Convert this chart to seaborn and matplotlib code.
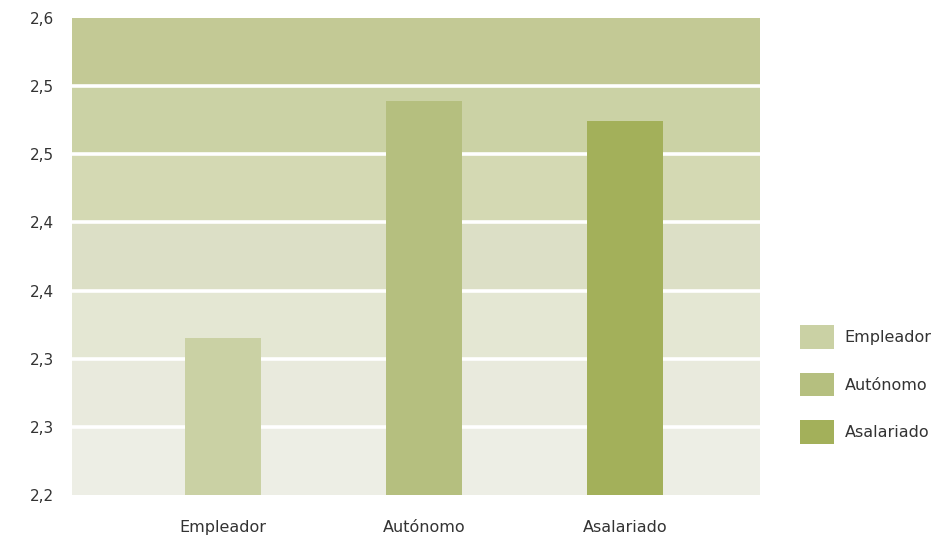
import matplotlib
matplotlib.use("Agg")
import matplotlib.pyplot as plt
import seaborn as sns
import pandas as pd
import numpy as np
from matplotlib.ticker import FuncFormatter
from matplotlib.patches import Patch

categories = ["Empleador", "Autónomo", "Asalariado"]
values = [2.332, 2.530, 2.514]
bar_colors = ["#CAD1A4", "#B5BF7F", "#A3B05A"]
band_colors = ["#EDEEE5", "#E9EADD", "#E4E7D3", "#DCDFC6", "#D4D9B3", "#CBD2A5", "#C3C995"]
y_min, y_max = 2.2, 2.6

sns.set_theme(style="white")
plt.rcParams['font.family'] = ['DejaVu Sans']
text_color = "#333333"

df = pd.DataFrame({"cat": categories, "val": values})

fig = plt.figure(figsize=(9.53, 5.40), dpi=100)
ax = fig.add_axes([72/953, 1-495/540, (760-72)/953, (495-18)/540])

ticks = np.linspace(y_min, y_max, 8)
for i, c in enumerate(band_colors):
    ax.axhspan(ticks[i], ticks[i+1], color=c, zorder=0, lw=0)
for t in ticks[1:-1]:
    ax.axhline(t, color="white", lw=2.6, zorder=0.5)

sns.barplot(data=df, x="cat", y="val", hue="cat", palette=bar_colors,
            hue_order=categories, order=categories, width=0.378,
            legend=False, ax=ax, zorder=2, saturation=1, linewidth=0)

ax.set_ylim(y_min, y_max)
ax.set_xlim(-0.75, 2.672)
ax.set_yticks(ticks)
ax.yaxis.set_major_formatter(FuncFormatter(lambda v, p: f"{v:.1f}".replace(".", ",")))
ax.set_xlabel("")
ax.set_ylabel("")
for s in ax.spines.values():
    s.set_visible(False)
ax.tick_params(axis="y", length=0, pad=13, labelsize=11, labelcolor=text_color)
ax.tick_params(axis="x", length=0, pad=18, labelsize=11.5, labelcolor=text_color)

handles = [Patch(facecolor=c, edgecolor="none", label=l) for c, l in zip(bar_colors, categories)]
fig.legend(handles=handles, loc="upper left", bbox_to_anchor=(800/953, 1-325/540),
           frameon=False, borderpad=0, borderaxespad=0, fontsize=11.5,
           handlelength=2.1, handleheight=1.9, handletextpad=0.7, labelspacing=1.5,
           labelcolor=text_color)

fig.savefig("out.png", dpi=100)
